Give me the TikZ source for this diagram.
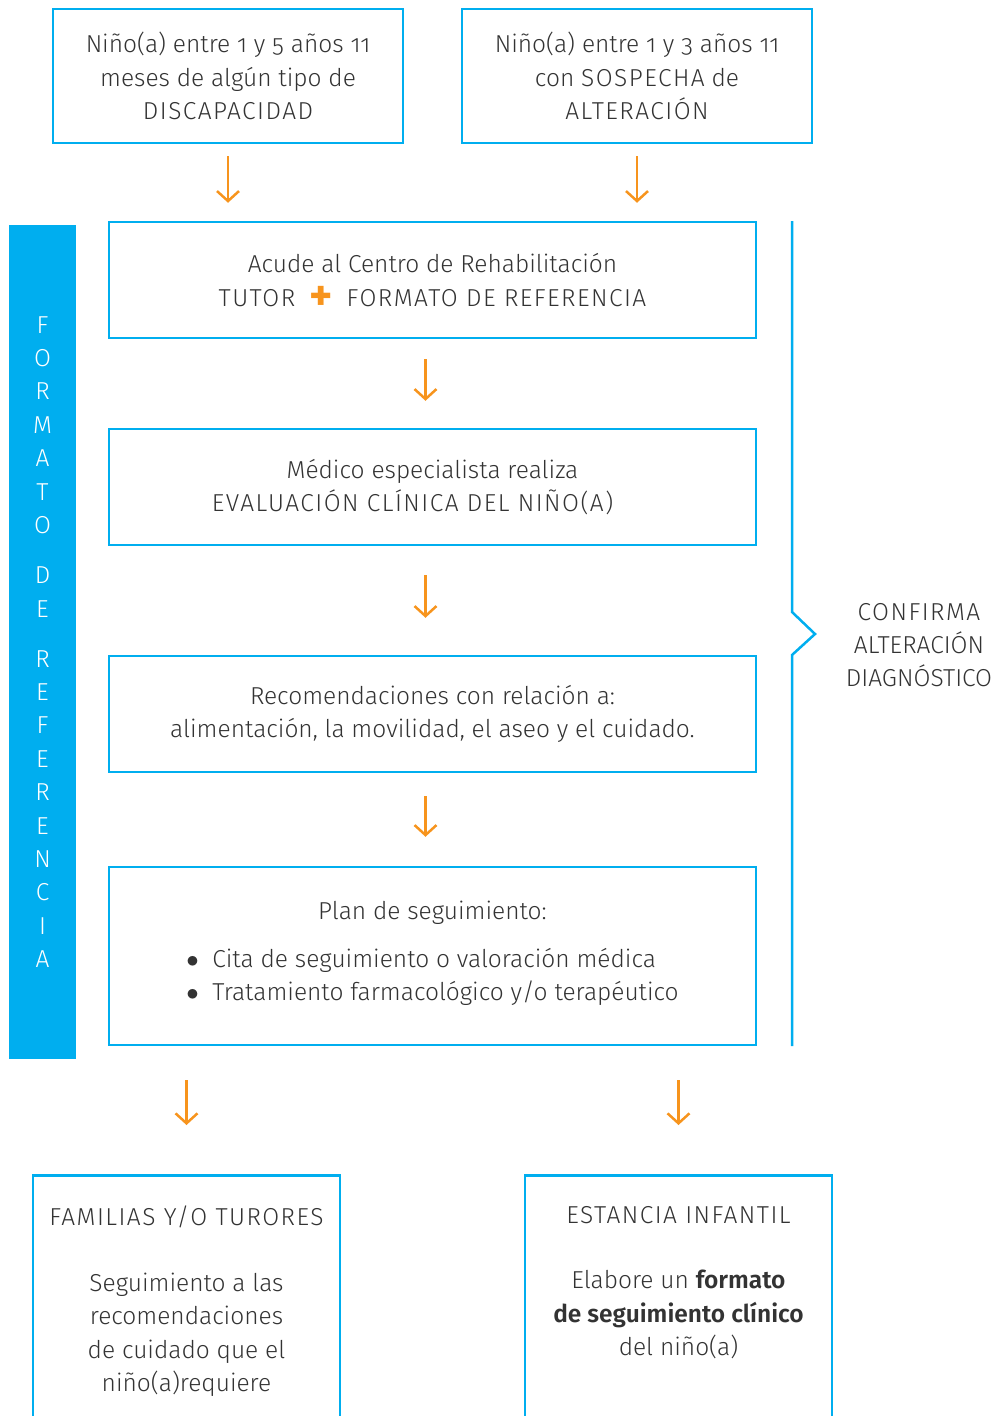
\documentclass[tikz,border=0pt]{standalone}
\usepackage{fontspec}
\setmainfont{Fira Sans Light}[BoldFont={Fira Sans SemiBold},Numbers=OldStyle]
\newfontfamily\mayus{Fira Sans Light}[LetterSpace=6,Numbers=OldStyle]
\newfontfamily\signo{Fira Sans Bold}
\usetikzlibrary{arrows.meta,positioning}
\definecolor{azul}{HTML}{00AEEF}
\definecolor{naranja}{HTML}{F7941D}
\definecolor{texto}{HTML}{333333}

\tikzset{
  caja/.style={draw=azul, line width=2.5pt, align=center, text=texto,
    minimum width=647, minimum height=116},
  flecha/.style={naranja, line width=2.5pt, -{Straight Barb[length=10pt,width=22pt]}},
}

\begin{document}
\begin{tikzpicture}[x=1pt,y=-1pt,font=\fontsize{24.5}{33.4}\selectfont]
\useasboundingbox (0,0) rectangle (1005,1416);
\clip (0,0) rectangle (1005,1416);

% entradas
\node[caja, minimum width=350, minimum height=134] (disc) at (228,76)
  {Niño(a) entre 1 y 5 años 11\\meses de algún tipo de\\{\mayus DISCAPACIDAD}};
\node[caja, minimum width=350, minimum height=134] (sosp) at (637,76)
  {Niño(a) entre 1 y 3 años 11\\con {\mayus SOSPECHA} de\\{\mayus ALTERACIÓN}};

% barra lateral
\node[fill=azul, minimum width=67, minimum height=834, text=white, align=center] (barra) at (42.5,642)
  {\mayus F\\O\\R\\M\\A\\T\\O\\[16.7pt]D\\E\\[16.7pt]R\\E\\F\\E\\R\\E\\N\\C\\I\\A};

% flujo central
\node[caja] (acude) at (432.5,280)
  {Acude al Centro de Rehabilitación\\{\mayus TUTOR}\hspace{14pt}\smash{\raisebox{-4pt}{\color{naranja}\signo\fontsize{44}{44}\selectfont +}}\hspace{14pt}{\mayus FORMATO DE REFERENCIA}};
\node[caja] (medico) at (432.5,487)
  {Médico especialista realiza\\{\mayus EVALUACIÓN CLÍNICA DEL NIÑO(A)}\hspace*{40pt}};
\node[caja] (recom) at (432.5,714)
  {Recomendaciones con relación a:\\alimentación, la movilidad, el aseo y el cuidado.};
\node[caja, minimum height=178] (plan) at (432.5,956)
  {Plan de seguimiento:\\[18pt]
   \begin{tabular}{@{}l@{}}
   $\bullet$\ \ Cita de seguimiento o valoración médica\\
   $\bullet$\ \ Tratamiento farmacológico y/o terapéutico
   \end{tabular}};

% salidas
\node[caja, minimum width=307, minimum height=300, anchor=north] (fam) at (186.5,1174) {};
\node[caja, minimum width=307, minimum height=300, anchor=north] (est) at (678.5,1174) {};
\node[anchor=north, inner sep=0, align=center, text=texto] (famtxt) at ([yshift=-32pt]fam.north)
  {{\mayus FAMILIAS Y/O TURORES}\\[32pt]Seguimiento a las\\recomendaciones\\de cuidado que el\\niño(a)requiere};
\node[anchor=north, inner sep=0, align=center, text=texto] (esttxt) at ([yshift=-32pt]est.north)
  {{\mayus ESTANCIA INFANTIL}\\[32pt]Elabore un \textbf{formato}\\\textbf{de seguimiento clínico}\\del niño(a)};

% llave derecha
\draw[azul, line width=2.5pt] (792,221) -- (792,612) -- (815,634) -- (792,655) -- (792,1046);
\node[align=center, text=texto] (confirma) at (919,645) {\mayus CONFIRMA\\ALTERACIÓN\\DIAGNÓSTICO};

% flechas
\draw[flecha, shorten <=12pt, shorten >=18pt] (disc.south) -- (disc.south |- acude.north);
\draw[flecha, shorten <=12pt, shorten >=18pt] (sosp.south) -- (sosp.south |- acude.north);
\draw[flecha, shorten <=20pt, shorten >=27pt] ([xshift=-7pt]acude.south) -- ([xshift=-7pt]medico.north);
\draw[flecha, shorten <=29pt, shorten >=37pt] ([xshift=-7pt]medico.south) -- ([xshift=-7pt]recom.north);
\draw[flecha, shorten <=23pt, shorten >=29pt] ([xshift=-7pt]recom.south) -- ([xshift=-7pt]plan.north);
\draw[flecha, shorten <=34pt, shorten >=49pt] (plan.south -| fam.north) -- (fam.north);
\draw[flecha, shorten <=34pt, shorten >=49pt] (plan.south -| est.north) -- (est.north);

\end{tikzpicture}
\end{document}
